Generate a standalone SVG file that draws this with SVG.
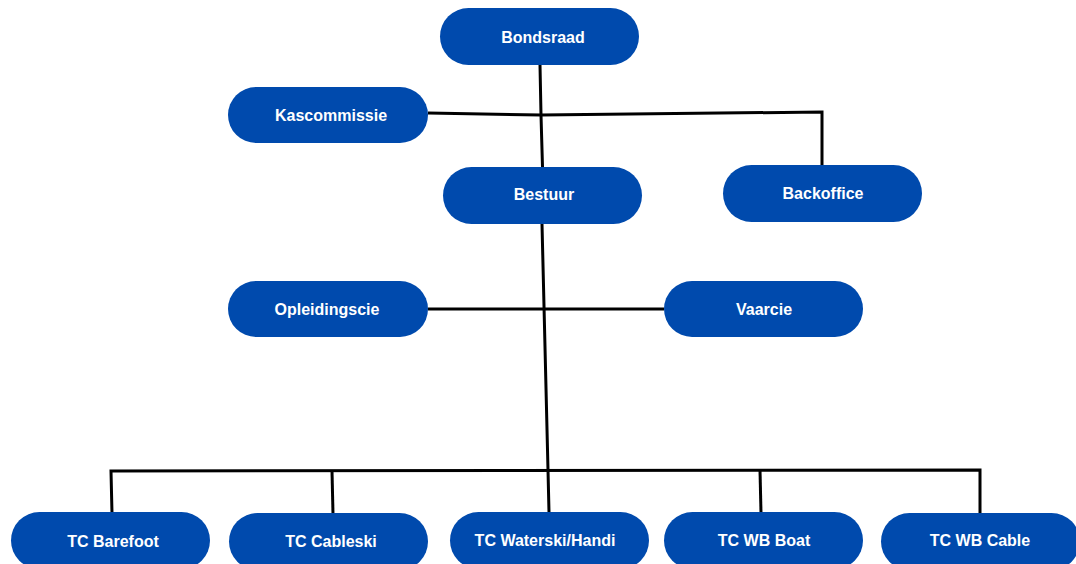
<svg xmlns="http://www.w3.org/2000/svg" width="1076" height="564" viewBox="0 0 1076 564">
<style>
.n rect{fill:#004aad;}
.n text{fill:#ffffff;font-family:"Liberation Sans",Arial,sans-serif;font-weight:bold;font-size:16px;text-anchor:middle;}
.c{stroke:#000;stroke-width:3;fill:none;stroke-linejoin:miter;}
</style>
<rect width="1076" height="564" fill="#ffffff"/>
<g id="connectors">
<polyline class="c" points="540,65 541,115 542.5,167"/>
<polyline class="c" points="428,113 541,115 822,112 822,165"/>
<polyline class="c" points="542,224 548,470 549,512"/>
<line class="c" x1="428" y1="309" x2="664" y2="309"/>
<polyline class="c" points="112,513 111,471 980,470 980,514"/>
<line class="c" x1="332" y1="471" x2="333" y2="514"/>
<line class="c" x1="760" y1="470" x2="761" y2="513"/>
</g>
<g id="bondsraad" class="n"><rect x="440" y="8" width="199" height="57" rx="28.5"/><text x="543" y="43">Bondsraad</text></g>
<g id="kascommissie" class="n"><rect x="228" y="87" width="200" height="56" rx="28"/><text x="331" y="121">Kascommissie</text></g>
<g id="bestuur" class="n"><rect x="443" y="167" width="199" height="57" rx="28.5"/><text x="544" y="200">Bestuur</text></g>
<g id="backoffice" class="n"><rect x="723" y="165" width="199" height="57" rx="28.5"/><text x="823" y="199">Backoffice</text></g>
<g id="opleidingscie" class="n"><rect x="228" y="281" width="200" height="56" rx="28"/><text x="327" y="315">Opleidingscie</text></g>
<g id="vaarcie" class="n"><rect x="664" y="281" width="199" height="56" rx="28"/><text x="764" y="315">Vaarcie</text></g>
<g id="tc-barefoot" class="n"><rect x="11" y="512" width="199" height="57" rx="28.5"/><text x="113" y="547">TC Barefoot</text></g>
<g id="tc-cableski" class="n"><rect x="229" y="513" width="199" height="57" rx="28.5"/><text x="331" y="547">TC Cableski</text></g>
<g id="tc-waterski" class="n"><rect x="450" y="512" width="199" height="57" rx="28.5"/><text x="545" y="546">TC Waterski/Handi</text></g>
<g id="tc-wb-boat" class="n"><rect x="664" y="512" width="199" height="57" rx="28.5"/><text x="764" y="546">TC WB Boat</text></g>
<g id="tc-wb-cable" class="n"><rect x="881" y="513" width="199" height="57" rx="28.5"/><text x="980" y="546">TC WB Cable</text></g>
</svg>
